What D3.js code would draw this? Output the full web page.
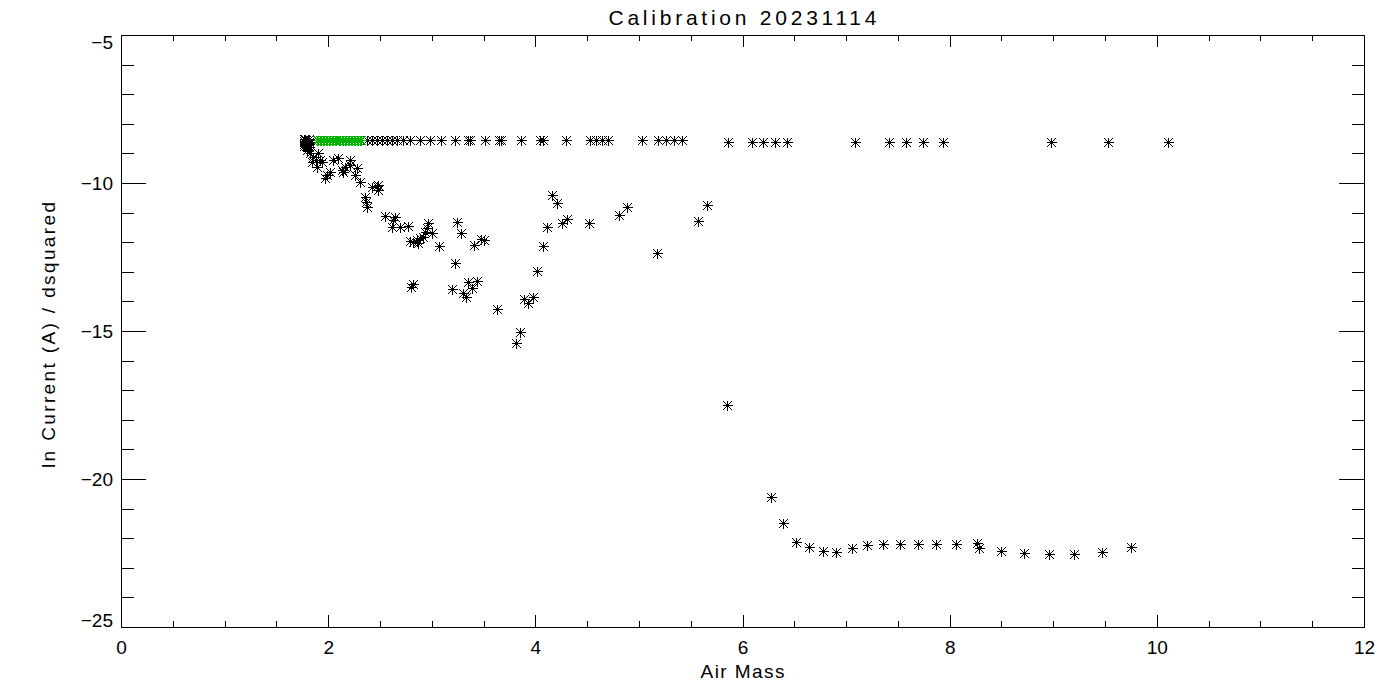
<!DOCTYPE html>
<html>
<head>
<meta charset="utf-8">
<script src="https://cdn.jsdelivr.net/npm/d3@7"></script>
<style>
  html, body { margin: 0; padding: 0; background: #fff; }
  svg { display: block; }
  text { font-family: "Liberation Sans", Arial, sans-serif; fill: #000; }
</style>
</head>
<body>
<svg id="chart" width="1400" height="700"></svg>
<script>
// ---------------- data ----------------
const titleText = "Calibration 20231114";
const xTitle = "Air Mass";
const yTitle = "ln Current (A) / dsquared";

const xMajorTicks = [0, 2, 4, 6, 8, 10, 12];
const yMajorTicks = [-5, -10, -15, -20, -25];
const xMinorTicks = [0.5, 1, 1.5, 2.5, 3, 3.5, 4.5, 5, 5.5, 6.5, 7, 7.5, 8.5, 9, 9.5, 10.5, 11, 11.5];
const yMinorTicks = [-6, -7, -8, -9, -11, -12, -13, -14, -16, -17, -18, -19, -21, -22, -23, -24];

// dense cluster at the start of the flat (reference) series
const clusterAirMass  = [1.767, 1.776, 1.786, 1.796, 1.776, 1.786, 1.796, 1.805, 1.815, 1.776, 1.786, 1.805, 1.767, 1.815, 1.796, 1.805, 1.767, 1.815, 1.767, 1.815];
const clusterLnCurrent = [-8.58, -8.51, -8.55, -8.58, -8.62, -8.65, -8.68, -8.55, -8.62, -8.72, -8.75, -8.72, -8.68, -8.52, -8.78, -8.80, -8.51, -8.78, -8.75, -8.68];

// flat black series (after the green part)
const flatAirMass = [2.375, 2.423, 2.472, 2.520, 2.568, 2.616, 2.665, 2.723, 2.790, 2.887, 2.983, 3.089, 3.225, 3.350, 3.369,
  3.514, 3.649, 3.669, 3.862, 4.045, 4.074, 4.296, 4.528, 4.586, 4.644, 4.702, 5.030, 5.184, 5.262, 5.339, 5.416,
  5.860, 6.092, 6.198, 6.314, 6.430, 7.086, 7.415, 7.579, 7.743, 7.936, 8.979, 9.529, 10.108];
const flatLnCurrent = [-8.55, -8.55, -8.55, -8.55, -8.55, -8.55, -8.55, -8.55, -8.55, -8.55, -8.55, -8.55, -8.55, -8.55, -8.55,
  -8.55, -8.55, -8.55, -8.55, -8.55, -8.55, -8.55, -8.55, -8.55, -8.55, -8.55, -8.55, -8.55, -8.55, -8.55, -8.55,
  -8.60, -8.60, -8.60, -8.60, -8.60, -8.60, -8.60, -8.60, -8.60, -8.63, -8.61, -8.61, -8.61];

// green highlighted part of the flat series
const greenAirMass = [1.89, 1.90, 1.92, 1.93, 1.95, 1.96, 1.98, 1.99, 2.01, 2.02, 2.04, 2.05, 2.07, 2.08, 2.10,
  2.11, 2.13, 2.14, 2.16, 2.17, 2.19, 2.20, 2.22, 2.23, 2.25, 2.26, 2.28, 2.29, 2.31, 2.32];
const greenLnCurrent = [-8.55, -8.54, -8.56, -8.55, -8.54, -8.56, -8.55, -8.55, -8.54, -8.56, -8.55, -8.55, -8.54, -8.56, -8.55,
  -8.55, -8.54, -8.56, -8.55, -8.55, -8.54, -8.56, -8.55, -8.55, -8.54, -8.56, -8.55, -8.55, -8.54, -8.55];

// scattered (measured) series
const scatterAirMass = [1.796, 1.825, 1.854, 1.902, 1.844, 1.921, 1.940, 1.892, 1.882, 1.989, 1.969, 2.018, 2.047, 2.095,
  2.134, 2.143, 2.162, 2.211, 2.211, 2.278, 2.259, 2.307, 2.423, 2.471, 2.481, 2.481, 2.356, 2.365, 2.375,
  2.549, 2.645, 2.626, 2.616, 2.693, 2.771, 2.790, 2.819, 2.858, 2.867, 2.887, 2.915, 2.935, 2.964, 2.954,
  3.002, 3.070, 3.244, 3.282, 3.408, 3.475, 3.504, 3.224, 2.800, 2.819, 3.196, 3.302, 3.350, 3.389, 3.437,
  3.331, 3.630, 3.813, 3.852, 3.891, 3.929, 3.977, 4.016, 4.074, 4.113, 4.161, 4.209, 4.257, 4.306, 4.518,
  4.808, 4.885, 5.174, 5.571, 5.658, 5.851, 6.275, 6.391, 6.516, 6.642, 6.777, 6.903, 7.057, 7.202, 7.356,
  7.520, 7.694, 7.868, 8.061, 8.264, 8.283, 8.495, 8.717, 8.959, 9.200, 9.471, 9.751];
const scatterLnCurrent = [-8.885, -8.986, -9.122, -8.986, -9.291, -9.223, -9.291, -9.459, -9.223, -9.730, -9.831, -9.628, -9.223, -9.155,
  -9.561, -9.628, -9.459, -9.223, -9.392, -9.493, -9.730, -9.966, -10.135, -10.101, -10.068, -10.236, -10.473, -10.642, -10.811,
  -11.115, -11.149, -11.250, -11.486, -11.486, -11.453, -11.959, -11.993, -11.926, -12.027, -11.858, -11.824, -11.655, -11.351, -11.520,
  -11.689, -12.128, -11.318, -11.689, -12.095, -11.892, -11.926, -12.703, -13.514, -13.412, -13.581, -13.716, -13.345, -13.547, -13.311,
  -13.851, -14.257, -15.405, -15.034, -13.919, -14.054, -13.851, -12.973, -12.128, -11.486, -10.405, -10.676, -11.351, -11.216, -11.351,
  -11.081, -10.811, -12.365, -11.284, -10.743, -17.500, -20.608, -21.486, -22.128, -22.297, -22.432, -22.466, -22.331, -22.230, -22.196,
  -22.196, -22.196, -22.196, -22.196, -22.162, -22.331, -22.432, -22.500, -22.534, -22.534, -22.466, -22.297];

// ---------------- layout ----------------
const L = 121, R = 1364, T = 35, B = 627;
const svg = d3.select("#chart");

const x = d3.scaleLinear().domain([0, 12]).range([L, R]);
const y = d3.scaleLinear().domain([-25, -5]).range([B, T]);

const xMajorLen = 12, xMinorLen = 6, yMajorLen = 25, yMinorLen = 12.5;
const fmt = d => d3.format("d")(d).replace("-", "\u2212");

function styleAxis(g) {
  g.selectAll("path.domain").attr("stroke", "#000").attr("stroke-width", 1).attr("shape-rendering", "crispEdges");
  g.selectAll(".tick line").attr("stroke", "#000").attr("stroke-width", 1).attr("shape-rendering", "crispEdges");
  g.selectAll("text").style("font-size", "19px").attr("fill", "#000");
}

// bottom
const gB = svg.append("g").attr("transform", `translate(0,${B})`)
  .call(d3.axisBottom(x).tickValues(xMajorTicks).tickSize(-xMajorLen).tickSizeOuter(0).tickPadding(14).tickFormat(fmt));
styleAxis(gB);
const gBm = svg.append("g").attr("transform", `translate(0,${B})`)
  .call(d3.axisBottom(x).tickValues(xMinorTicks).tickSize(-xMinorLen).tickSizeOuter(0).tickFormat(""));
styleAxis(gBm); gBm.select("path.domain").remove();

// top
const gT = svg.append("g").attr("transform", `translate(0,${T})`)
  .call(d3.axisTop(x).tickValues(xMajorTicks).tickSize(-xMajorLen).tickSizeOuter(0).tickFormat(""));
styleAxis(gT);
const gTm = svg.append("g").attr("transform", `translate(0,${T})`)
  .call(d3.axisTop(x).tickValues(xMinorTicks).tickSize(-xMinorLen).tickSizeOuter(0).tickFormat(""));
styleAxis(gTm); gTm.select("path.domain").remove();

// left
const gL = svg.append("g").attr("transform", `translate(${L},0)`)
  .call(d3.axisLeft(y).tickValues(yMajorTicks).tickSize(-yMajorLen).tickSizeOuter(0).tickPadding(8).tickFormat(fmt));
styleAxis(gL);
// keep end labels inside the box vertically (as in the reference)
gL.selectAll(".tick text").attr("dy", "0.35em").attr("y", d => {
  const py = y(d);
  const cy = Math.min(Math.max(py, T + 7), B - 7);
  return cy - py;
});
const gLm = svg.append("g").attr("transform", `translate(${L},0)`)
  .call(d3.axisLeft(y).tickValues(yMinorTicks).tickSize(-yMinorLen).tickSizeOuter(0).tickFormat(""));
styleAxis(gLm); gLm.select("path.domain").remove();

// right
const gR = svg.append("g").attr("transform", `translate(${R},0)`)
  .call(d3.axisRight(y).tickValues(yMajorTicks).tickSize(-yMajorLen).tickSizeOuter(0).tickFormat(""));
styleAxis(gR);
const gRm = svg.append("g").attr("transform", `translate(${R},0)`)
  .call(d3.axisRight(y).tickValues(yMinorTicks).tickSize(-yMinorLen).tickSizeOuter(0).tickFormat(""));
styleAxis(gRm); gRm.select("path.domain").remove();

// ---------------- markers (IDL-style asterisk) ----------------
const r = 5, rd = 4.5;
const starPath = `M${-r},0L${r},0M0,${-r}L0,${r}M${-rd},${-rd}L${rd},${rd}M${-rd},${rd}L${rd},${-rd}`;

function drawStars(xs, ys, color) {
  const data = xs.map((v, i) => [v, ys[i]]);
  const g = svg.append("g");
  g.selectAll("path").data(data).join("path")
    .attr("d", starPath)
    .attr("transform", d => `translate(${Math.round(x(d[0])) + 0.5},${Math.round(y(d[1])) + 0.5})`)
    .attr("fill", "none")
    .attr("stroke", color)
    .attr("stroke-width", 1)
    .attr("shape-rendering", "crispEdges");
  g.selectAll("rect").data(data).join("rect")
    .attr("x", d => Math.round(x(d[0])) - 1)
    .attr("y", d => Math.round(y(d[1])) - 1)
    .attr("width", 3).attr("height", 3)
    .attr("fill", color);
}

drawStars(flatAirMass, flatLnCurrent, "#000");
drawStars(scatterAirMass, scatterLnCurrent, "#000");
drawStars(greenAirMass, greenLnCurrent, "#00b400");
drawStars(clusterAirMass, clusterLnCurrent, "#000");

// ---------------- titles ----------------
const cx = (L + R) / 2;
svg.append("text").attr("x", cx).attr("y", 25).attr("text-anchor", "middle")
  .style("font-size", "21px").attr("textLength", 268).attr("lengthAdjust", "spacing").text(titleText);
svg.append("text").attr("x", cx).attr("y", 678).attr("text-anchor", "middle")
  .style("font-size", "19px").attr("textLength", 84).attr("lengthAdjust", "spacing").text(xTitle);
svg.append("text").attr("transform", `translate(55,${(T + B) / 2 + 4}) rotate(-90)`).attr("text-anchor", "middle")
  .style("font-size", "19px").attr("textLength", 266).attr("lengthAdjust", "spacing").text(yTitle);
</script>
</body>
</html>
